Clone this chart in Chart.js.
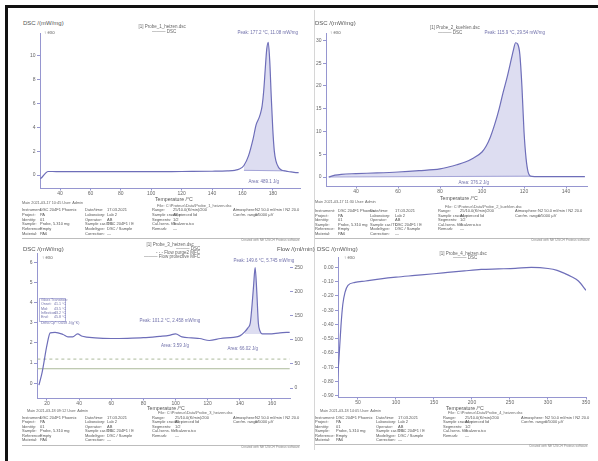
<!DOCTYPE html>
<html><head><meta charset="utf-8">
<script src="https://cdn.jsdelivr.net/npm/chart.js@4.4.1/dist/chart.umd.min.js"></script>
<style>
html,body{margin:0;padding:0;background:#fff;}
#page{position:relative;width:598px;height:461px;overflow:hidden;background:#fff;filter:blur(0.45px);font-family:"Liberation Sans",Arial,sans-serif;}
.frameT{position:absolute;left:5px;top:5px;width:600px;height:3px;background:#111;}
.frameL{position:absolute;left:5px;top:5px;width:3px;height:470px;background:#111;}
.t{position:absolute;white-space:nowrap;line-height:1;color:#666;}
canvas{position:absolute;}
.hr{position:absolute;height:0;border-top:1px solid #bdbdbd;}
.vr{position:absolute;width:0;border-left:1px solid #d6d6d6;}
.box{position:absolute;border:1px solid #b4b4dc;}
</style></head>
<body><div id="page"><div class="frameT"></div><div class="frameL"></div><div class="vr" style="left:314px;top:10px;height:440px"></div></div>
<script>
// ---------- DATA ----------
// Panel 1: DSC heating (melting)
const p1Temp = [27,28,30,32,35,40,60,80,100,120,140,150,155,158,161,164,167,169,171,172,173,174,175,176,177,178,179,180,181,182,184,186,188,190,193,196,197];
const p1Dsc  = [-0.3,-0.2,0.1,0.3,0.3,0.28,0.28,0.28,0.28,0.3,0.32,0.35,0.4,0.5,0.8,1.6,3.0,4.2,4.8,5.2,5.8,7.0,8.8,10.5,11.1,9.5,6.5,3.8,2.0,1.2,0.6,0.4,0.35,0.3,0.25,0.2,0.2];
const p1BaseT = [161,188];
const p1BaseV = [0.4,0.35];
const p1XTicks = [40,60,80,100,120,140,160,180];
const p1YTicks = [0,2,4,6,8,10];

// Panel 2: DSC peak
const p2Temp = [27,30,33,40,50,60,70,80,84,88,92,96,100,102,104,106,108,110,112,114,115,116,117,118,119,120,121,122,123,125,130,140,149];
const p2Dsc  = [0,0.4,0.6,0.75,0.9,1.1,1.4,1.8,2.2,2.7,3.3,4.2,5.5,6.8,8.8,11.5,14.7,18.5,22.0,26.0,28.0,29.5,29.2,27.0,20.0,10.0,4.0,1.0,0.2,0.1,0.1,0.1,0.1];
const p2BaseT = [27,123];
const p2BaseV = [0,0.2];
const p2XTicks = [40,60,80,100,120,140];
const p2YTicks = [0,5,10,15,20,25,30];

// Panel 3: DSC with gas flows
const p3Temp = [15,17,20,22,25,30,33,36,39,42,50,60,70,80,90,96,100,104,110,115,121,128,136,140,143,145,146.5,147.5,148.5,149.5,150.5,151.5,152.5,154,158,165,171];
const p3Dsc  = [-0.1,0.55,1.9,2.5,2.53,2.42,2.3,2.3,2.45,2.33,2.25,2.22,2.23,2.26,2.33,2.38,2.45,2.3,2.25,2.22,2.12,2.22,2.28,2.35,2.55,2.75,3.0,3.8,4.8,5.75,4.6,3.0,2.6,2.45,2.45,2.5,2.53];
const p3FlowT = [14,171];
const p3Purge = [60,60];
const p3Prot  = [40,40];
const p3XTicks = [20,40,60,80,100,120,140,160];
const p3YTicks = [0,1,2,3,4,5,6];
const p3FlowTicks = [0,50,100,150,200,250];

// Panel 4: DSC (wide range)
const p4Temp = [22.4,25,27.6,30,32.9,36.8,46,60,80,100,125,150,168,190,212,235,257,278,300,312,322,331,340,350];
const p4Dsc  = [-0.825,-0.636,-0.41,-0.26,-0.175,-0.126,-0.105,-0.095,-0.08,-0.068,-0.056,-0.044,-0.035,-0.024,-0.014,-0.01,-0.006,0,-0.007,-0.02,-0.042,-0.065,-0.095,-0.16];
const p4XTicks = [50,100,150,200,250,300,350];
const p4YTicks = [0,-0.1,-0.2,-0.3,-0.4,-0.5,-0.6,-0.7,-0.8,-0.9];

// ---------- STYLE ----------
const AX='rgb(150,150,208)', CURVE='rgb(110,110,185)', FILLC='rgba(198,198,232,0.6)', TXT='#666', ANN='rgb(112,112,170)';
const FAM='"Liberation Sans", Arial, sans-serif';
const page=document.getElementById('page');
const pts=(xs,ys)=>xs.map((x,i)=>({x,y:ys[i]}));

function T(x,y,s,size,color,anchor,weight){
  const d=document.createElement('div');d.className='t';d.textContent=s;
  d.style.fontSize=size+'px';d.style.top=(y-size/2)+'px';
  if(color)d.style.color=color; if(weight)d.style.fontWeight=weight;
  page.appendChild(d);
  const w=d.offsetWidth;
  d.style.left=(anchor==='c'?x-w/2:anchor==='r'?x-w:x)+'px';
  return d;
}
function HR(x1,x2,y){const d=document.createElement('div');d.className='hr';d.style.left=x1+'px';d.style.width=(x2-x1)+'px';d.style.top=y+'px';page.appendChild(d);}

function panel(box,opt){
  const yW=30,xH=14,R=opt.R||6,TOP=4,yRW=opt.y2?opt.y2.w:0;
  const cv=document.createElement('canvas');
  cv.width=yW+(box.r-box.l)+yRW+R;
  cv.height=TOP+(box.b-box.t)+xH;
  cv.style.left=(box.l-yW)+'px';cv.style.top=(box.t-TOP)+'px';
  page.appendChild(cv);
  const mk=(min,max,ticks,fmt,extra,tl,pad)=>Object.assign({
    type:'linear',min,max,
    afterBuildTicks:s=>{s.ticks=ticks.map(v=>({value:v}));},
    grid:{display:true,drawOnChartArea:false,drawTicks:true,tickLength:tl,color:AX,lineWidth:1},
    border:{display:true,color:AX,width:1},
    ticks:{font:{size:5,family:FAM},color:TXT,padding:pad,maxRotation:0,autoSkip:false,callback:fmt||(v=>String(v))}
  },extra||{});
  const scales={
    x:mk(opt.x[0],opt.x[1],opt.xt,null,{position:'bottom',afterFit:s=>{s.height=xH;}},2.5,0.5),
    y:mk(opt.y[0],opt.y[1],opt.yt,opt.yfmt,{position:'left',afterFit:s=>{s.width=yW;}},3,1.5)
  };
  if(opt.y2){scales.y2=mk(opt.y2.min,opt.y2.max,opt.y2.ticks,null,{position:'right',afterFit:s=>{s.width=yRW;},border:{display:false}},3,1.5);}
  new Chart(cv,{type:'line',data:{datasets:opt.ds},options:{
    responsive:false,animation:false,devicePixelRatio:1,
    layout:{padding:{top:TOP,right:R,left:0,bottom:0}},
    plugins:{legend:{display:false},tooltip:{enabled:false}},
    elements:{point:{radius:0}},
    scales}});
}
const line=(data,extra)=>Object.assign({data,borderColor:CURVE,borderWidth:1.2,pointRadius:0,fill:false,cubicInterpolationMode:'monotone'},extra||{});
const within=(arr,lo,hi)=>arr.filter(p=>p.x>=lo&&p.x<=hi);

// ---------- CHARTS ----------
panel({l:40,t:33,r:300,b:188},{x:[26.8,197.9],y:[-1.08,11.83],xt:p1XTicks,yt:p1YTicks,ds:[
  line(pts(p1Temp,p1Dsc)),
  line(pts(p1BaseT,p1BaseV),{borderColor:AX,borderWidth:0.8,cubicInterpolationMode:'default'}),
  line(within(pts(p1Temp,p1Dsc),p1BaseT[0],p1BaseT[1]),{borderWidth:0,backgroundColor:FILLC,fill:{value:p1BaseV[1]}})
]});
panel({l:326,t:33,r:587,b:186},{R:8,x:[25.7,150],y:[-1.97,31.53],xt:p2XTicks,yt:p2YTicks,ds:[
  line(pts(p2Temp,p2Dsc)),
  line(pts(p2BaseT,p2BaseV),{borderColor:AX,borderWidth:0.8,cubicInterpolationMode:'default'}),
  line(within(pts(p2Temp,p2Dsc),p2BaseT[0],p2BaseT[1]),{borderWidth:0,backgroundColor:FILLC,fill:{value:p2BaseV[0]}})
]});
panel({l:37,t:253,r:290,b:398},{R:2,x:[13.78,171.2],y:[-0.74,6.45],xt:p3XTicks,yt:p3YTicks,
  y2:{w:16,min:-20.66,max:278.9,ticks:p3FlowTicks},ds:[
  line(pts(p3Temp,p3Dsc)),
  line(pts(p3FlowT,p3Purge),{yAxisID:'y2',borderColor:'rgb(172,186,155)',borderWidth:1,borderDash:[3,3],cubicInterpolationMode:'default'}),
  line(pts(p3FlowT,p3Prot),{yAxisID:'y2',borderColor:'rgb(172,186,155)',borderWidth:1,cubicInterpolationMode:'default'}),
  line(within(pts(p3Temp,p3Dsc),143,154),{borderWidth:0,backgroundColor:FILLC,fill:{value:2.45}})
]});
panel({l:338,t:257,r:586,b:397},{R:8,x:[23.7,350],y:[-0.909,0.07],xt:p4XTicks,yt:p4YTicks,yfmt:v=>v.toFixed(2),ds:[
  line(pts(p4Temp,p4Dsc))
]});

// ---------- TEXTS ----------
const TT='#555';
// titles
T(23,23,'DSC /(mW/mg)',6,TT,'l');
T(315,23,'DSC /(mW/mg)',6,TT,'l');
T(23,249,'DSC /(mW/mg)',6,TT,'l');
T(277,249,'Flow /(ml/min)',6,TT,'l');
T(317,249,'DSC /(mW/mg)',6,TT,'l');
// exo markers
T(44,33,'↑ exo',4.5,TXT,'l');
T(330,33,'↑ exo',4.5,TXT,'l');
T(42,258,'↑ exo',4.5,TXT,'l');
T(344,258,'↑ exo',4.5,TXT,'l');
// legends
T(162,27,'[1] Probe_1_heizen.dsc',4.5,TXT,'c');T(164,32,'——— DSC',4.5,TXT,'c');
T(455,28,'[1] Probe_2_kuehlen.dsc',4.5,TXT,'c');T(450,33,'——— DSC',4.5,TXT,'c');
T(170,245,'[1] Probe_3_heizen.dsc',4.5,TXT,'c');
T(200,249,'——— DSC',4.5,TXT,'r');T(200,253,'- - - Flow purge2 MFC',4.5,TXT,'r');T(200,257,'——— Flow protective MFC',4.5,TXT,'r');
T(463,254,'[1] Probe_4_heizen.dsc',4.5,TXT,'c');T(465,258,'——— DSC',4.5,TXT,'c');
// peak / area annotations
T(268,33,'Peak: 177.2 °C, 11.08 mW/mg',4.5,ANN,'c');
T(264,182,'Area: 489.1 J/g',4.5,ANN,'c');
T(515,33,'Peak: 115.9 °C, 29.54 mW/mg',4.5,ANN,'c');
T(474,183,'Area: 376.2 J/g',4.5,ANN,'c');
T(264,261,'Peak: 149.6 °C, 5.745 mW/mg',4.5,ANN,'c');
T(170,321,'Peak: 101.2 °C, 2.458 mW/mg',4.5,ANN,'c');
T(175,346,'Area: 3.59 J/g',4.5,ANN,'c');
T(243,349,'Area: 66.02 J/g',4.5,ANN,'c');
// glass transition box (panel 3)
(function(){const b=document.createElement('div');b.className='box';b.style.left='39px';b.style.top='298px';b.style.width='25px';b.style.height='22px';page.appendChild(b);})();
const gtRows=[['Glass Transition:',''],['Onset:','41.1 °C'],['Mid:','43.5 °C'],['Inflection:','43.2 °C'],['End:','45.8 °C']];
gtRows.forEach((r,i)=>{T(41,301+i*4.2,r[0],3.6,ANN,'l');if(r[1])T(54,301+i*4.2,r[1],3.6,ANN,'l');});
T(41,323.5,'Delta Cp*:   0.058 J/(g*K)',3.6,ANN,'l');
// axis titles
T(174,199.5,'Temperature /°C',5.2,TT,'c');
T(459,199,'Temperature /°C',5.2,TT,'c');
T(166,408.5,'Temperature /°C',5.2,TT,'c');
T(465,408.5,'Temperature /°C',5.2,TT,'c');
// under-axis info lines
T(22,203.5,'Main   2021-03-17 10:45   User: Admin',3.8,TXT,'l');
T(315,203,'Main   2021-03-17 11:30   User: Admin',3.8,TXT,'l');
T(27,412,'Main   2021-03-18 09:12   User: Admin',3.8,TXT,'l');
T(320,412,'Main   2021-03-18 14:05   User: Admin',3.8,TXT,'l');

// ---------- METADATA BLOCKS ----------
const metaCol1=[["Instrument:","DSC 204F1 Phoenix"],["Project:","PA"],["Identity:","01"],["Sample:","Probe, 5.310 mg"],["Reference:","Empty"],["Material:","PA6"]];
const metaCol2=[["Date/time:","17.03.2021"],["Laboratory:","Lab 2"],["Operator:","AB"],["Sample car./TC:","DSC 204F1 / E"],["Mode/type:","DSC / Sample"],["Correction:","—"]];
const metaCol3=[["Range:","25/10.0(K/min)/200"],["Sample crucible:","Al, pierced lid"],["Segments:","1/2"],["Cal./sens. file:","Tcalzero.tcx"],["Remark:","—"]];
const metaCol4=[["Atmosphere:","N2 50.0 ml/min / N2 20.0"],["Corr/m. range:","0/5000 µV"]];
function meta(hdr,rows,cols,lineY,lx1,lx2){
  T(hdr[0],hdr[1],hdr[2],4,TXT,'l');
  [metaCol1,metaCol2,metaCol3,metaCol4].forEach((col,ci)=>{
    col.forEach((r,ri)=>{if(ri<rows.length){T(cols[ci][0],rows[ri],r[0],4,'#555','l');T(cols[ci][1],rows[ri],r[1],4,'#555','l');}});
  });
  HR(lx1,lx2,lineY);
  T(lx2,lineY+2.5,'Created with NETZSCH Proteus software',3.2,'#888','r');
}
meta([157,206,'File: C:\\Proteus\\Data\\Probe_1_heizen.dsc'],[210,214.8,219.6,224.4,229.2,234],[[22,40],[85,107],[152,173],[233,255]],238,22,300);
meta([445,207,'File: C:\\Proteus\\Data\\Probe_2_kuehlen.dsc'],[211,215.6,220.2,224.8,229.4,234],[[315,338],[370,395],[438,460],[515,538]],238,315,590);
meta([158,413,'File: C:\\Proteus\\Data\\Probe_3_heizen.dsc'],[418,422.4,426.8,431.2,435.6,440],[[22,40],[85,107],[152,175],[233,255]],445,22,300);
meta([448,413,'File: C:\\Proteus\\Data\\Probe_4_heizen.dsc'],[418,422.4,426.8,431.2,435.6,440],[[315,336],[376,398],[443,465],[521,545]],444,315,588);
</script>
</body></html>
